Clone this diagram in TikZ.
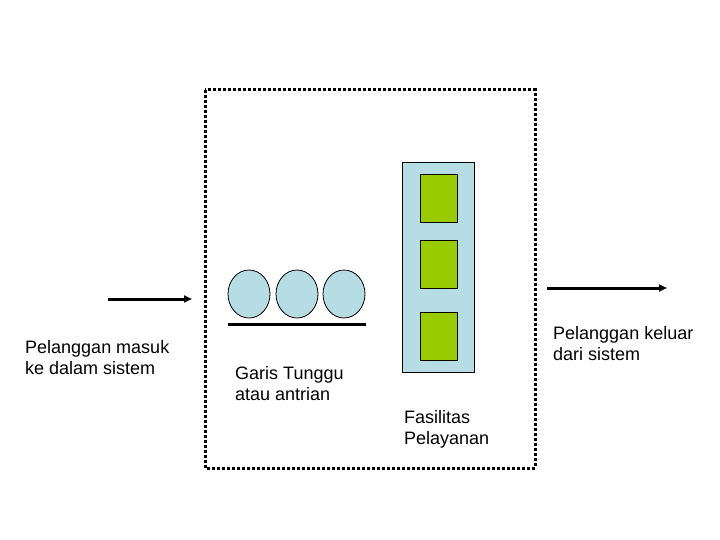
\documentclass[tikz,border=0pt]{standalone}
\usepackage{fontspec}
\setmainfont{Liberation Sans}
\usetikzlibrary{arrows.meta,shapes.geometric}
\definecolor{lblue}{RGB}{183,221,228}
\definecolor{lgreen}{RGB}{153,204,0}
\begin{document}
\begin{tikzpicture}[x=1pt,y=-1pt,
  lbl/.style={align=left,anchor=base west,inner sep=0pt,font=\fontsize{18}{21}\selectfont},
  arr/.style={line width=3pt,-{Triangle[length=8pt,width=7pt]}},
  cust/.style={draw,fill=lblue,ellipse,minimum width=42pt,minimum height=48pt,inner sep=0pt,line width=0.8pt},
  srv/.style={draw,fill=lgreen,minimum width=37pt,minimum height=48pt,inner sep=0pt,line width=0.8pt}]
\useasboundingbox (0,0) rectangle (720,540);
\draw[line width=3pt,dash pattern=on 3pt off 2pt] (205,90) rectangle (535,468);
\node[cust] (c1) at (249,294) {};
\node[cust] (c2) at (297,294) {};
\node[cust] (c3) at (344,294) {};
\coordinate (q1) at (228,324);
\coordinate (q2) at (366,324);
\draw[line width=3pt] (q1) -- (q2);
\node[draw,fill=lblue,minimum width=72pt,minimum height=210pt,inner sep=0pt,line width=0.8pt] (fac) at (438,267) {};
\node[srv] (s1) at (438.5,198) {};
\node[srv] (s2) at (438.5,264) {};
\node[srv] (s3) at (438.5,336) {};
\coordinate (a1) at (108,299);
\coordinate (a2) at (192,299);
\draw[arr] (a1) -- (a2);
\coordinate (b1) at (547,288);
\coordinate (b2) at (667,288);
\draw[arr] (b1) -- (b2);
\node[lbl] (t1) at (25,374) {Pelanggan masuk\\ke dalam sistem};
\node[lbl] (t2) at (235,400) {Garis Tunggu\\atau antrian};
\node[lbl] (t3) at (404,444) {Fasilitas\\Pelayanan};
\node[lbl] (t4) at (553,360) {Pelanggan keluar\\dari sistem};
\end{tikzpicture}
\end{document}
